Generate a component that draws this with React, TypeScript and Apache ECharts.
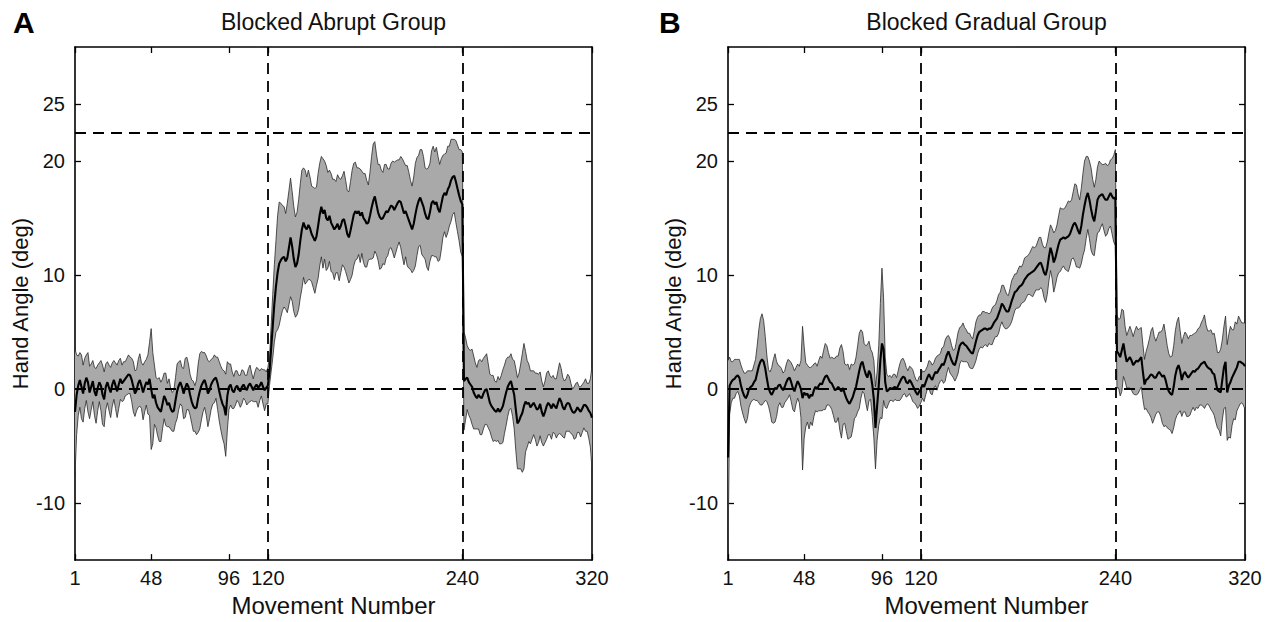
import React, { useEffect, useRef } from "react";
import * as echarts from "echarts";

// ---------- axis / reference values ----------
const movementTicks = [1, 48, 96, 120, 240, 320];
const angleTicks = [-10, 0, 10, 20, 25];
const phaseBoundaries = [120, 240];
const referenceAngles = [0, 22.5];
const panelTitles = ["Blocked Abrupt Group", "Blocked Gradual Group"];
const panelLetters = ["A", "B"];

// ---------- Panel A : Blocked Abrupt (mean hand angle and SE) ----------
const abruptBaselineMean = [
  -2.0, -0.5, 0.3, 0.8, 0.2, -0.4, 0.5, 1.0, 0.6, -0.3, 0.2, 0.7, -0.2, -0.6, 0.1, 0.6, 0.3, -0.5, -0.9, 0.2,
  0.6, 0.1, -0.3, 0.4, 0.8, 0.3, -0.2, 0.4, 0.9, 0.5, 0.7, 0.9, 1.1, 1.3, 1.2, 0.8, 0.2, -0.4, -0.1, 0.5,
  0.8, 0.3, -0.3, 0.2, 0.6, 0.4, 0.9, 0.0, -0.8, -0.5, -1.2, -1.6, -1.8, -2.0, -1.3, -0.6, -0.9, -1.4, -1.2, -1.7,
  -2.0, -1.9, -1.0, -0.2, 0.3, 0.6, 0.2, -0.4, 0.1, 0.5, 0.2, -0.5, -1.1, -1.5, -1.7, -1.6, -0.8, -0.2, 0.3, 0.6,
  0.8, 0.3, -0.4, -0.1, 0.4, 0.7, 0.9, 1.0, 0.5, -0.2, -0.8, -1.3, -1.6, -2.3, -0.6, 0.2, 0.4, -0.1, -0.3, 0.1,
  0.3, 0.0, -0.2, 0.2, 0.4, 0.1, -0.1, 0.3, 0.5, 0.2, -0.1, 0.2, 0.4, 0.1, 0.3, 0.6, 0.2, -0.1, 0.1, 0.3,
];
const abruptBaselineSE = [
  5.5, 3.5, 2.6, 2.4, 2.8, 2.5, 2.2, 2.0, 2.6, 2.3, 2.0, 1.8, 2.1, 2.4, 2.0, 1.7, 2.2, 2.6, 2.4, 2.0,
  1.8, 2.0, 2.2, 1.9, 1.7, 2.0, 2.3, 2.1, 1.8, 1.6, 1.7, 1.5, 1.6, 1.7, 1.6, 1.9, 2.2, 2.0, 1.8, 2.1,
  2.3, 2.0, 2.4, 2.2, 2.0, 2.6, 3.2, 5.3, 4.0, 2.6, 2.2, 2.5, 2.8, 2.6, 2.2, 2.0, 2.3, 1.9, 2.1, 1.8,
  1.7, 1.8, 2.0, 2.4, 2.1, 1.9, 1.7, 2.2, 2.6, 2.3, 2.0, 1.8, 1.9, 2.2, 2.0, 2.4, 3.0, 3.3, 3.0, 2.6,
  2.4, 2.6, 2.9, 2.5, 2.2, 2.0, 2.1, 1.8, 2.3, 2.6, 2.8, 3.0, 3.2, 3.6, 3.0, 2.0, 1.8, 1.6, 1.4, 1.5,
  1.3, 1.2, 1.4, 1.5, 1.2, 1.1, 1.3, 1.5, 1.6, 1.2, 1.0, 1.3, 1.5, 1.7, 1.3, 1.2, 1.5, 1.8, 1.4, 1.6,
];
const abruptRotationMean = [
  1.5, 3.5, 5.5, 7.5, 9.0, 10.2, 11.0, 11.3, 11.5, 11.6, 11.2, 11.5, 12.4, 13.3, 12.5, 11.4, 10.7, 11.0, 11.8, 13.0,
  14.0, 14.6, 14.2, 14.0, 14.4, 14.1, 13.6, 13.3, 13.0, 13.4, 14.3, 15.3, 16.0, 15.4, 15.7, 15.0, 14.8, 15.2, 14.6, 14.3,
  14.0, 14.2, 14.5, 14.0, 14.3, 14.8, 14.9, 14.3, 13.6, 13.3, 13.9, 14.6, 15.3, 15.6, 15.4, 15.6, 15.2, 15.5, 15.0, 14.8,
  14.5, 14.6, 15.2, 15.9, 16.5, 16.9, 16.2, 15.5, 15.1, 14.9, 15.0, 15.3, 15.6, 15.5, 15.8, 16.1, 16.0, 15.7, 16.0, 16.3,
  16.5, 16.4, 15.9, 15.4, 15.6, 15.2, 14.8, 14.4, 14.0, 14.5, 15.3, 16.0, 16.5, 16.8, 16.4, 16.0, 15.4, 15.0, 14.9, 15.5,
  16.3, 16.5, 16.2, 16.4, 15.8, 15.5, 16.2, 16.9, 17.2, 17.0, 17.5, 17.8, 18.3, 18.6, 18.7, 18.2, 17.6, 17.0, 16.5, 16.2,
];
const abruptRotationSE = [
  1.2, 2.0, 2.8, 3.4, 4.0, 5.0, 5.4, 5.0, 4.6, 4.4, 4.2, 4.8, 5.0, 5.2, 4.8, 4.6, 4.4, 4.5, 4.8, 5.0,
  5.2, 4.8, 5.0, 4.6, 4.8, 4.5, 4.2, 4.4, 4.6, 4.3, 4.6, 4.5, 4.4, 4.8, 4.3, 4.6, 4.2, 4.0, 4.3, 4.1,
  4.4, 4.0, 4.3, 4.5, 4.1, 3.9, 4.2, 4.0, 3.8, 4.0, 4.3, 4.6, 4.5, 4.3, 4.0, 3.8, 4.1, 3.6, 3.9, 4.1,
  3.8, 3.3, 3.8, 4.5, 5.0, 4.8, 4.4, 4.2, 4.6, 4.3, 4.0, 4.4, 4.1, 3.8, 3.5, 3.7, 4.0, 4.2, 4.0, 3.8,
  3.6, 4.0, 4.3, 4.5, 4.0, 4.4, 4.2, 3.9, 3.8, 4.1, 4.5, 4.3, 4.0, 4.2, 4.6, 4.4, 4.0, 4.3, 4.5, 4.3,
  4.6, 4.8, 4.6, 4.8, 4.6, 4.2, 4.0, 3.6, 3.4, 3.7, 3.8, 3.5, 3.6, 3.3, 3.2, 3.6, 3.8, 4.0, 4.5, 4.6,
];
const abruptWashoutMean = [
  0.7, 0.9, 1.0, 0.6, 0.4, 0.2, -0.3, -0.6, -0.8, -0.5, -0.7, -0.8, -0.4, -0.1, 0.0, -0.6, -1.2, -1.5, -1.7, -1.9,
  -2.0, -1.7, -2.0, -1.8, -1.5, -0.9, -0.3, 0.2, 0.5, 0.7, 0.1, -0.5, -1.8, -3.0, -2.8, -2.4, -2.1, -1.5, -1.1, -1.3,
  -1.2, -1.6, -1.4, -1.2, -1.5, -1.8, -1.7, -1.3, -2.0, -2.4, -2.0, -1.5, -1.2, -1.4, -1.7, -1.3, -1.5, -1.7, -1.2, -0.8,
  -1.1, -1.6, -1.8, -1.4, -1.2, -1.3, -1.7, -2.0, -2.1, -1.9, -1.6, -1.8, -2.0, -1.7, -1.4, -1.4, -1.6, -1.9, -2.1, -2.5,
];
const abruptWashoutSE = [
  4.3, 3.6, 2.8, 2.9, 3.0, 3.3, 3.2, 2.9, 2.7, 3.0, 3.3, 3.2, 3.1, 3.0, 3.1, 2.8, 2.5, 2.7, 2.9, 2.6,
  2.6, 2.8, 2.8, 3.0, 3.2, 3.0, 2.9, 2.6, 2.3, 2.4, 2.5, 3.0, 3.6, 4.0, 4.2, 4.6, 5.2, 5.5, 4.4, 3.8,
  3.4, 3.2, 3.0, 2.8, 2.9, 3.2, 3.0, 2.8, 2.7, 2.6, 2.7, 2.9, 2.8, 2.6, 2.7, 2.5, 2.4, 2.6, 2.8, 3.1,
  2.9, 2.6, 2.5, 2.3, 2.5, 2.4, 2.2, 2.0, 2.3, 2.4, 2.2, 2.0, 2.2, 2.1, 2.0, 2.3, 2.1, 2.4, 3.0, 4.5,
];

// ---------- Panel B : Blocked Gradual (mean hand angle and SE) ----------
const gradualBaselineMean = [
  -6.0, 0.3, 0.6, 0.8, 0.9, 1.1, 1.2, 1.0, 0.3, -0.2, -0.6, -0.8, -0.5, 0.0, 0.2, 0.3, 0.6, 0.8, 1.4, 2.0,
  2.4, 2.6, 2.4, 1.8, 0.9, 0.1, -0.3, -0.5, -0.2, 0.1, 0.0, 0.3, 0.4, 0.1, -0.1, 0.2, 0.6, 0.9, 1.0, 0.6,
  0.1, -0.2, 0.3, 0.7, 0.4, 0.0, -0.8, -0.3, -0.5, -0.4, -0.8, -0.5, -0.6, -0.1, 0.2, 0.0, 0.3, 0.5, 0.4, 0.8,
  1.1, 1.2, 0.9, 0.6, 0.5, 0.2, -0.1, 0.0, 0.2, 0.0, -0.2, 0.1, -0.4, -0.8, -1.1, -1.3, -1.0, -0.7, -0.2, 0.2,
  0.9, 1.6, 2.2, 2.4, 1.8, 1.3, 1.0, 1.6, 1.3, 0.4, -0.9, -3.4, -1.5, 0.3, 2.5, 4.0, 3.5, 0.6, -0.2, -0.1,
  0.1, 0.0, 0.1, 0.2, 0.0, 0.3, 0.6, 0.9, 1.1, 1.0, 0.6, 0.5, 0.8, 0.6, 0.3, 0.0, -0.3, -0.5, -0.2, 0.0,
];
const gradualBaselineSE = [
  8.5, 2.5, 1.8, 1.6, 1.7, 1.5, 1.4, 1.6, 1.8, 1.9, 2.0, 2.2, 2.1, 1.6, 1.4, 1.3, 1.5, 1.8, 2.4, 3.2,
  3.8, 4.0, 3.6, 2.8, 2.0, 1.6, 1.8, 2.4, 2.8, 3.0, 2.4, 1.8, 1.6, 1.7, 1.5, 1.4, 1.6, 1.7, 1.5, 1.7,
  1.9, 1.8, 1.6, 1.5, 1.6, 2.5, 6.3, 4.0, 2.8, 2.5, 2.7, 2.4, 2.6, 2.3, 2.1, 2.0, 2.2, 2.4, 2.3, 2.6,
  2.9, 2.6, 2.3, 2.1, 2.3, 2.5, 2.8, 2.9, 2.7, 3.6, 4.1, 3.2, 2.6, 2.9, 3.3, 3.0, 3.2, 2.8, 2.4, 2.6,
  2.9, 3.3, 3.0, 2.6, 2.2, 2.5, 2.9, 2.6, 2.2, 2.8, 3.4, 3.6, 3.0, 3.5, 5.0, 6.6, 4.5, 2.2, 1.5, 1.2,
  1.1, 1.0, 1.2, 1.1, 1.0, 1.3, 1.6, 1.7, 1.6, 1.4, 1.3, 1.1, 1.2, 1.3, 1.4, 1.2, 1.1, 1.2, 1.3, 1.2,
];
const gradualRotationMean = [
  0.4, 0.2, 0.6, 1.0, 1.3, 1.0, 0.8, 1.2, 1.5, 1.4, 1.7, 1.9, 2.2, 2.1, 2.5, 3.0, 3.3, 2.9, 2.5, 2.2,
  2.1, 2.6, 3.2, 3.8, 4.0, 4.1, 3.9, 3.8, 3.6, 3.4, 3.2, 3.1, 3.6, 4.2, 4.7, 5.0, 5.1, 5.2, 5.3, 5.3,
  5.2, 5.3, 5.3, 5.5, 5.8, 6.0, 6.2, 6.6, 7.0, 7.5, 7.3, 7.0, 6.8, 6.8, 7.2, 7.7, 8.1, 8.5, 8.6, 8.8,
  9.0, 9.1, 9.3, 9.6, 9.8, 10.0, 10.1, 10.2, 10.3, 10.4, 10.6, 10.8, 11.0, 11.1, 10.7, 10.2, 10.0, 10.6, 11.6, 12.4,
  11.9, 11.1, 11.5, 12.1, 12.7, 13.1, 13.2, 13.3, 13.2, 13.3, 13.4, 13.6, 14.0, 14.4, 14.6, 14.3, 13.9, 13.6, 14.3, 15.3,
  16.1, 16.8, 17.2, 16.6, 15.8, 15.1, 14.7, 15.6, 16.6, 16.9, 17.0, 17.1, 16.8, 16.6, 16.6, 16.9, 17.2, 16.9, 16.7, 16.8,
];
const gradualRotationSE = [
  1.2, 1.3, 1.1, 1.0, 1.2, 1.4, 1.3, 1.1, 1.2, 1.5, 1.3, 1.2, 1.4, 1.6, 1.8, 1.6, 1.4, 1.5, 1.3, 1.2,
  1.4, 1.6, 1.8, 1.6, 1.5, 1.7, 1.5, 1.4, 1.3, 1.5, 1.4, 1.3, 1.5, 1.7, 1.6, 1.5, 1.4, 1.6, 1.5, 1.4,
  1.5, 1.3, 1.4, 1.6, 1.5, 1.4, 1.6, 1.7, 1.5, 1.6, 1.8, 1.7, 1.5, 1.4, 1.6, 1.8, 1.7, 1.6, 1.5, 1.7,
  1.8, 1.6, 1.7, 1.9, 1.8, 1.7, 1.8, 2.0, 2.2, 2.0, 1.9, 2.1, 2.3, 2.2, 2.0, 2.2, 2.4, 2.3, 2.1, 2.0,
  2.2, 2.6, 2.4, 2.3, 2.5, 2.8, 2.6, 2.5, 2.7, 2.9, 3.1, 2.8, 2.6, 2.9, 3.4, 3.6, 3.2, 3.0, 3.3, 3.6,
  3.9, 3.6, 3.2, 3.4, 3.6, 3.3, 3.0, 2.8, 2.9, 3.1, 2.8, 2.6, 2.9, 3.2, 3.0, 2.8, 2.9, 3.3, 3.8, 4.2,
];
const gradualWashoutMean = [
  3.3, 3.1, 2.8, 3.4, 4.0, 3.1, 2.4, 2.6, 2.8, 2.5, 2.1, 2.3, 2.5, 2.4, 2.6, 2.8, 1.5, 0.4, 0.8, 0.9,
  1.1, 1.3, 1.2, 1.0, 1.0, 1.3, 1.5, 1.3, 1.1, 1.2, 0.8, 0.2, -0.2, -0.4, -0.5, 0.2, 1.2, 1.8, 2.1, 1.6,
  0.8, 1.3, 1.5, 1.2, 1.0, 1.2, 1.4, 1.6, 1.5, 1.7, 1.8, 2.0, 2.2, 2.3, 2.4, 2.1, 1.9, 1.8, 1.7, 1.4,
  1.3, 0.6, -0.1, -0.2, -0.3, 0.8, 1.9, 2.4, -0.3, 0.3, 0.6, 1.0, 1.3, 1.6, 1.9, 2.4, 2.4, 2.3, 2.2, 2.0,
];
const gradualWashoutSE = [
  3.2, 3.0, 3.4, 3.6, 2.9, 2.4, 2.3, 2.5, 2.7, 2.6, 2.5, 2.8, 3.0, 2.8, 2.7, 2.6, 2.4, 2.2, 2.5, 2.9,
  3.3, 3.8, 4.2, 3.6, 3.2, 3.3, 3.5, 3.7, 4.1, 4.5, 4.0, 3.6, 3.3, 3.2, 3.4, 3.6, 3.9, 4.1, 4.2, 3.5,
  3.2, 3.3, 3.5, 3.6, 3.4, 3.5, 3.3, 3.2, 3.4, 3.3, 3.5, 3.4, 3.6, 3.8, 4.1, 3.5, 3.2, 3.3, 3.5, 3.4,
  3.6, 3.5, 3.3, 3.4, 3.8, 3.5, 3.6, 4.0, 4.2, 4.5, 4.9, 4.2, 3.9, 4.3, 3.8, 4.0, 3.7, 3.5, 3.6, 3.8,
];

const abruptMean = [...abruptBaselineMean, ...abruptRotationMean, ...abruptWashoutMean];
const abruptSE = [...abruptBaselineSE, ...abruptRotationSE, ...abruptWashoutSE];
const gradualMean = [...gradualBaselineMean, ...gradualRotationMean, ...gradualWashoutMean];
const gradualSE = [...gradualBaselineSE, ...gradualRotationSE, ...gradualWashoutSE];

const FONT = "'Liberation Sans', Arial, Helvetica, sans-serif";
const PLOT_TOP = 47;
const PLOT_H = 516;
const PLOT_W = 517;
const PLOT_LEFTS = [75, 728];

function round2(v: number) {
  return Math.round(v * 100) / 100;
}

function buildPanelSeries(p: number, mean: number[], se: number[]) {
  const ax = { xAxisIndex: p * 2, yAxisIndex: p * 2 };
  const lower = mean.map((m, i) => [i + 1, round2(m - se[i])]);
  const upper = mean.map((m, i) => [i + 1, round2(m + se[i])]);
  const meanPts = mean.map((m, i) => [i + 1, m]);
  const base = { type: "line", symbol: "none", silent: true, ...ax };
  return [
    {
      type: "custom",
      silent: true,
      ...ax,
      clip: true,
      data: [[1, 0]],
      encode: { x: 0, y: 1 },
      renderItem: (params: any, api: any) => {
        if (params.dataIndex !== 0) return null;
        const pts: number[][] = [];
        for (let i = 0; i < upper.length; i++) pts.push(api.coord(upper[i]));
        for (let i = lower.length - 1; i >= 0; i--) pts.push(api.coord(lower[i]));
        return {
          type: "polygon",
          shape: { points: pts },
          style: { fill: "#a9a9a9", stroke: "none" },
        };
      },
    },
    { ...base, data: upper, lineStyle: { width: 0.8, color: "#2a2a2a" } },
    { ...base, data: lower, lineStyle: { width: 0.8, color: "#2a2a2a" } },
    {
      ...base,
      data: meanPts,
      lineStyle: { width: 2.1, color: "#000" },
      markLine: {
        silent: true,
        symbol: ["none", "none"],
        label: { show: false },
        lineStyle: { type: [11, 7], color: "#000", width: 1.8 },
        data: [
          ...referenceAngles.map((v) => ({ yAxis: v })),
          ...phaseBoundaries.map((v) => ({ xAxis: v })),
        ],
      },
    },
  ];
}

function buildAxes() {
  const xAxis: any[] = [];
  const yAxis: any[] = [];
  const line = { show: true, onZero: false, lineStyle: { color: "#000", width: 1.6 } };
  const tick = (vals: number[]) => ({
    show: true,
    inside: true,
    length: 6,
    customValues: vals,
    lineStyle: { color: "#000", width: 1.3 },
  });
  for (let p = 0; p < 2; p++) {
    xAxis.push({
      type: "value",
      gridIndex: p,
      position: "bottom",
      min: 1,
      max: 320,
      axisLine: line,
      axisTick: tick(movementTicks),
      axisLabel: {
        customValues: movementTicks,
        fontSize: 20,
        color: "#111",
        fontFamily: FONT,
        margin: 8,
      },
      splitLine: { show: false },
      name: "Movement Number",
      nameLocation: "middle",
      nameGap: 30,
      nameTextStyle: { fontSize: 24, color: "#111", fontFamily: FONT },
    });
    xAxis.push({
      type: "value",
      gridIndex: p,
      position: "top",
      min: 1,
      max: 320,
      axisLine: line,
      axisTick: tick(movementTicks),
      axisLabel: { show: false },
      splitLine: { show: false },
    });
    yAxis.push({
      type: "value",
      gridIndex: p,
      position: "left",
      min: -15,
      max: 30,
      axisLine: line,
      axisTick: tick(angleTicks),
      axisLabel: {
        customValues: angleTicks,
        fontSize: 20,
        color: "#111",
        fontFamily: FONT,
        margin: 10,
      },
      splitLine: { show: false },
      name: "Hand Angle (deg)",
      nameLocation: "middle",
      nameGap: 44,
      nameTextStyle: { fontSize: 22, color: "#111", fontFamily: FONT },
    });
    yAxis.push({
      type: "value",
      gridIndex: p,
      position: "right",
      min: -15,
      max: 30,
      axisLine: line,
      axisTick: tick(angleTicks),
      axisLabel: { show: false },
      splitLine: { show: false },
    });
  }
  return { xAxis, yAxis };
}

export default function App() {
  const ref = useRef<HTMLDivElement>(null);
  useEffect(() => {
    if (!ref.current) return;
    const chart = echarts.init(ref.current, undefined, { renderer: "svg" });
    const { xAxis, yAxis } = buildAxes();
    const graphic: any[] = [];
    for (let p = 0; p < 2; p++) {
      graphic.push({
        type: "text",
        x: PLOT_LEFTS[p] + PLOT_W / 2,
        y: 22,
        style: {
          text: panelTitles[p],
          fontSize: 23,
          fontFamily: FONT,
          fill: "#111",
          align: "center",
          verticalAlign: "middle",
        },
      });
      graphic.push({
        type: "text",
        x: p === 0 ? 13 : 659,
        y: 22,
        style: {
          text: panelLetters[p],
          fontSize: 30,
          fontWeight: "bold",
          fontFamily: FONT,
          fill: "#000",
          align: "left",
          verticalAlign: "middle",
        },
      });
    }
    chart.setOption({
      animation: false,
      backgroundColor: "#fff",
      grid: PLOT_LEFTS.map((l) => ({
        left: l,
        top: PLOT_TOP,
        width: PLOT_W,
        height: PLOT_H,
        show: false,
      })),
      xAxis,
      yAxis,
      graphic,
      series: [
        ...buildPanelSeries(0, abruptMean, abruptSE),
        ...buildPanelSeries(1, gradualMean, gradualSE),
      ],
    });
    return () => chart.dispose();
  }, []);
  return (
    <div
      ref={ref}
      style={{ position: "fixed", left: 0, top: 0, width: 1268, height: 622, background: "#fff" }}
    />
  );
}
